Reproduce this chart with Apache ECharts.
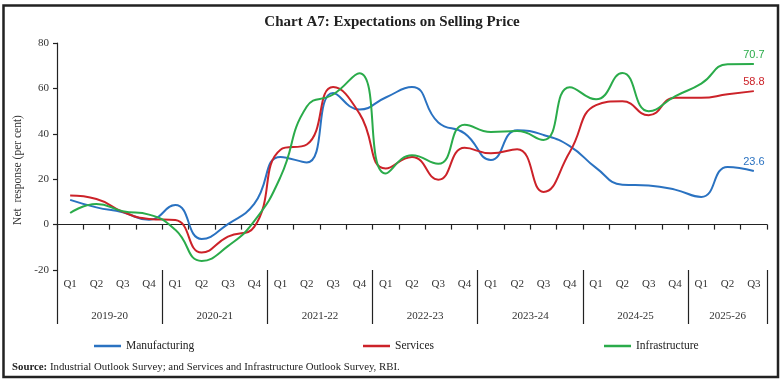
<!DOCTYPE html>
<html>
<head>
<meta charset="utf-8">
<script src="https://cdn.jsdelivr.net/npm/echarts@6/dist/echarts.min.js"></script>
<style>html,body{margin:0;padding:0;background:#fff;}#c{width:784px;height:384px;}</style>
</head>
<body>
<div id="c"></div>
<script>
const quarters = ['Q1','Q2','Q3','Q4','Q1','Q2','Q3','Q4','Q1','Q2','Q3','Q4','Q1','Q2','Q3','Q4','Q1','Q2','Q3','Q4','Q1','Q2','Q3','Q4','Q1','Q2','Q3'];
const years = ['2019-20','2020-21','2021-22','2022-23','2023-24','2024-25','2025-26'];
const yearQuarterCounts = [4,4,4,4,4,4,3];
const manufacturing = [10.9, 7.6, 5.4, 2.1, 8.6, -6.3, 0.2, 9.1, 29.8, 27.4, 58.0, 50.7, 56.0, 60.6, 45.0, 40.2, 28.5, 41.6, 39.5, 34.6, 25.0, 17.6, 17.2, 15.4, 12.2, 25.4, 23.6];
const services = [12.8, 11.3, 5.6, 2.5, 2.0, -12.3, -5.3, -1.0, 33.0, 35.3, 60.6, 49.0, 24.7, 29.8, 19.8, 33.8, 31.4, 33.2, 14.4, 32.0, 52.6, 54.3, 48.2, 55.9, 55.9, 57.4, 58.8];
const infrastructure = [5.1, 9.1, 5.9, 4.4, -2.3, -16.0, -9.5, 1.5, 21.0, 52.0, 57.3, 66.7, 22.5, 30.5, 26.8, 44.0, 40.8, 41.2, 37.3, 60.5, 55.2, 66.8, 49.9, 56.5, 62.1, 70.6, 70.7];
const yTicks = {min: -20, max: 80, interval: 20};

const colors = {Manufacturing: '#2a72c1', Services: '#cc2229', Infrastructure: '#2aab4a'};
const serif = 'Liberation Serif';

// year group boundaries and centers in quarter units
const bounds = [0];
yearQuarterCounts.forEach(n => bounds.push(bounds[bounds.length - 1] + n));
const centers = yearQuarterCounts.map((n, i) => bounds[i] + n / 2);

function mkSeries(name, arr) {
  const last = arr.length - 1;
  return {
    name: name, type: 'line', xAxisIndex: 0, yAxisIndex: 0,
    smooth: 0.5, symbol: 'circle', symbolSize: 0, showSymbol: true, showAllSymbol: true,
    lineStyle: {width: 2, color: colors[name]},
    itemStyle: {color: colors[name]},
    data: arr.map((v, i) => i === last ? {value: v, label: {show: true}} : v),
    label: {show: false, position: 'top', distance: 4, color: colors[name], fontFamily: 'Liberation Sans', fontSize: 11,
      formatter: p => Number(p.value).toFixed(1)}
  };
}

const chart = echarts.init(document.getElementById('c'), null, {renderer: 'canvas'});
chart.setOption({
  animation: false,
  backgroundColor: '#fff',
  title: [
    {text: 'Chart A7: Expectations on Selling Price', left: 'center', top: 10,
      textStyle: {fontFamily: serif, fontWeight: 'bold', fontSize: 15, color: '#222'}},
    {text: '{b|Source:} Industrial Outlook Survey; and Services and Infrastructure Outlook Survey, RBI.',
      left: 7, top: 357,
      textStyle: {fontFamily: serif, fontWeight: 'normal', fontSize: 10.8, color: '#222',
        rich: {b: {fontFamily: serif, fontWeight: 'bold', fontSize: 10.8, color: '#222'}}}}
  ],
  legend: [
    {data: ['Manufacturing'], left: 89, top: 335},
    {data: ['Services'], left: 358, top: 335},
    {data: ['Infrastructure'], left: 599, top: 335}
  ].map(l => Object.assign(l, {icon: 'rect', itemWidth: 27, itemHeight: 2.5, itemGap: 4,
    textStyle: {fontFamily: serif, fontSize: 11.5, color: '#222'}})),
  grid: {left: 57, right: 17, top: 43, bottom: 114, containLabel: false},
  xAxis: [
    {type: 'category', data: quarters, boundaryGap: true,
      axisLine: {onZero: true, lineStyle: {color: '#222', width: 1.2}},
      axisTick: {show: true, interval: 0, length: 5, lineStyle: {color: '#222', width: 1.2}},
      axisLabel: {show: false}, splitLine: {show: false}},
    {type: 'category', data: quarters, boundaryGap: true, position: 'bottom', offset: 0,
      axisLine: {show: false, onZero: false}, axisTick: {show: false},
      axisLabel: {show: true, interval: 0, margin: 9, fontFamily: serif, fontSize: 11, color: '#333'},
      splitLine: {show: false}},
    {type: 'value', min: 0, max: bounds[bounds.length - 1], position: 'bottom', offset: 0,
      axisLine: {show: false, onZero: false},
      axisTick: {show: true, customValues: bounds, length: 54, lineStyle: {color: '#222', width: 1.2}},
      axisLabel: {show: true, customValues: centers, margin: 41, fontFamily: serif, fontSize: 11, color: '#333',
        formatter: v => { const k = centers.indexOf(v); return k >= 0 ? years[k] : ''; }},
      splitLine: {show: false}}
  ],
  yAxis: {type: 'value', min: yTicks.min, max: yTicks.max, interval: yTicks.interval,
    axisLine: {show: true, lineStyle: {color: '#222', width: 1.2}},
    axisTick: {show: true, length: 4, lineStyle: {color: '#222', width: 1.2}},
    axisLabel: {margin: 8, fontFamily: serif, fontSize: 11, color: '#333'},
    splitLine: {show: false}},
  graphic: [
    {type: 'rect', shape: {x: 3.5, y: 5.5, width: 774.5, height: 371.5}, silent: true,
      style: {fill: 'none', stroke: '#222', lineWidth: 2.5}},
    {type: 'text', x: 18, y: 170, rotation: Math.PI / 2, silent: true,
      style: {text: 'Net  response (per cent)', fontFamily: serif, fontSize: 11.5, fill: '#333',
        align: 'center', verticalAlign: 'middle'}}
  ],
  series: [
    mkSeries('Manufacturing', manufacturing),
    mkSeries('Services', services),
    mkSeries('Infrastructure', infrastructure)
  ]
});
</script>
</body>
</html>
